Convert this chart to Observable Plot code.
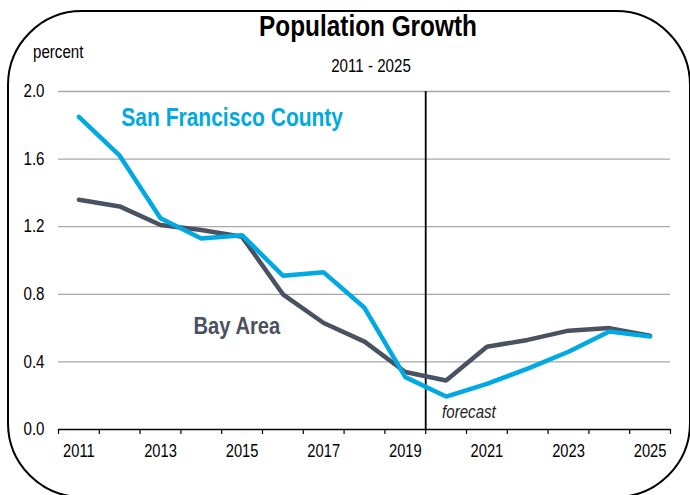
<!DOCTYPE html>
<html>
<head>
<meta charset="utf-8">
<script src="https://cdn.jsdelivr.net/npm/d3@7"></script>
<script src="https://cdn.jsdelivr.net/npm/@observablehq/plot@0.6"></script>
<style>
  html, body { margin: 0; padding: 0; background: #fff; overflow: hidden; }
  body { width: 690px; height: 495px; position: relative; font-family: "Liberation Sans Narrow", "Arial Narrow", "Liberation Sans", Arial, sans-serif; }
  #frame { position: absolute; left: 7px; top: 10px; width: 684px; height: 488px; box-sizing: border-box; border: 2px solid #000; border-radius: 75px; pointer-events: none; }
  .narrow { transform: scaleX(0.84); }
  #title { position: absolute; left: 0; width: 736px; top: 10px; text-align: center; font-size: 29px; font-weight: bold; color: #000; transform-origin: 368px 0; }
  #subtitle { position: absolute; left: 0; width: 742px; top: 56px; text-align: center; font-size: 18px; color: #000; transform-origin: 371px 0; }
  #unit { position: absolute; left: 33px; top: 42px; font-size: 18px; color: #000; transform-origin: 0 0; }
  #chart { position: absolute; left: 0; top: 0; }
</style>
</head>
<body>
<div id="chart"></div>
<div id="title" class="narrow">Population Growth</div>
<div id="subtitle" class="narrow">2011 - 2025</div>
<div id="unit" class="narrow">percent</div>
<div id="frame"></div>
<script>
const years = [2011, 2012, 2013, 2014, 2015, 2016, 2017, 2018, 2019, 2020, 2021, 2022, 2023, 2024, 2025];
const sanFrancisco = [1.85, 1.62, 1.25, 1.13, 1.15, 0.91, 0.93, 0.72, 0.31, 0.195, 0.27, 0.36, 0.46, 0.58, 0.55];
const bayArea = [1.36, 1.32, 1.21, 1.18, 1.14, 0.80, 0.63, 0.52, 0.34, 0.29, 0.49, 0.53, 0.585, 0.60, 0.555];
const yTicks = [0, 0.4, 0.8, 1.2, 1.6, 2.0];
const xLabelYears = [2011, 2013, 2015, 2017, 2019, 2021, 2023, 2025];
const forecastStart = 2020;
const seriesNames = ["San Francisco County", "Bay Area"];
const forecastLabel = "forecast";

const sfData = years.map((y, i) => ({year: y, value: sanFrancisco[i]}));
const bayData = years.map((y, i) => ({year: y, value: bayArea[i]}));
const edges = d3.range(years[0] - 0.5, years[years.length - 1] + 1, 1);

const SF_COLOR = "#00a9e2";
const BAY_COLOR = "#4a5161";

const chart = Plot.plot({
  width: 690,
  height: 495,
  marginLeft: 58,
  marginRight: 20,
  marginTop: 91,
  marginBottom: 66,
  style: {fontFamily: '"Liberation Sans Narrow", "Arial Narrow", "Liberation Sans", Arial, sans-serif', fontSize: "17px", color: "#000", background: "transparent"},
  x: {domain: [years[0] - 0.5, years[years.length - 1] + 0.5]},
  y: {domain: [0, 2]},
  marks: [
    Plot.gridY(yTicks.filter(d => d > 0), {stroke: "#a8a8a8", strokeOpacity: 1, strokeWidth: 1.3}),
    Plot.axisY({ticks: yTicks, tickSize: 0, tickPadding: 14, tickFormat: d3.format(".1f"), label: null, fontSize: 18}),
    Plot.axisX({ticks: edges, tickSize: 5, tickFormat: () => "", label: null, stroke: "#000", strokeWidth: 1.2}),
    Plot.axisX({ticks: xLabelYears, tickSize: 0, tickPadding: 15, tickFormat: d3.format("d"), label: null, fontSize: 17.5}),
    Plot.ruleY([0], {stroke: "#000", strokeWidth: 1.5}),
    Plot.ruleX([forecastStart - 0.5], {y1: 0, y2: 2, stroke: "#000", strokeWidth: 1.8}),
    Plot.line(bayData, {x: "year", y: "value", stroke: BAY_COLOR, strokeWidth: 4.5, strokeLinejoin: "miter"}),
    Plot.line(sfData, {x: "year", y: "value", stroke: SF_COLOR, strokeWidth: 4.5, strokeLinejoin: "miter"}),
    Plot.text([seriesNames[0]], {x: 2012.04, y: 1.845, text: d => d, textAnchor: "start", fill: SF_COLOR, fontSize: 25, fontWeight: "bold"}),
    Plot.text([seriesNames[1]], {x: 2013.81, y: 0.612, text: d => d, textAnchor: "start", fill: BAY_COLOR, fontSize: 24, fontWeight: "bold"}),
    Plot.text([forecastLabel], {x: 2019.9, y: 0.1, text: d => d, textAnchor: "start", fill: "#222", fontSize: 18, fontStyle: "italic"})
  ]
});
document.getElementById("chart").appendChild(chart);
// Emulate a narrow (condensed) typeface by compressing glyphs horizontally.
chart.querySelectorAll("text").forEach(t => {
  const len = t.getComputedTextLength();
  if (len > 0) {
    t.setAttribute("textLength", (len * 0.84).toFixed(2));
    t.setAttribute("lengthAdjust", "spacingAndGlyphs");
  }
});
</script>
</body>
</html>
